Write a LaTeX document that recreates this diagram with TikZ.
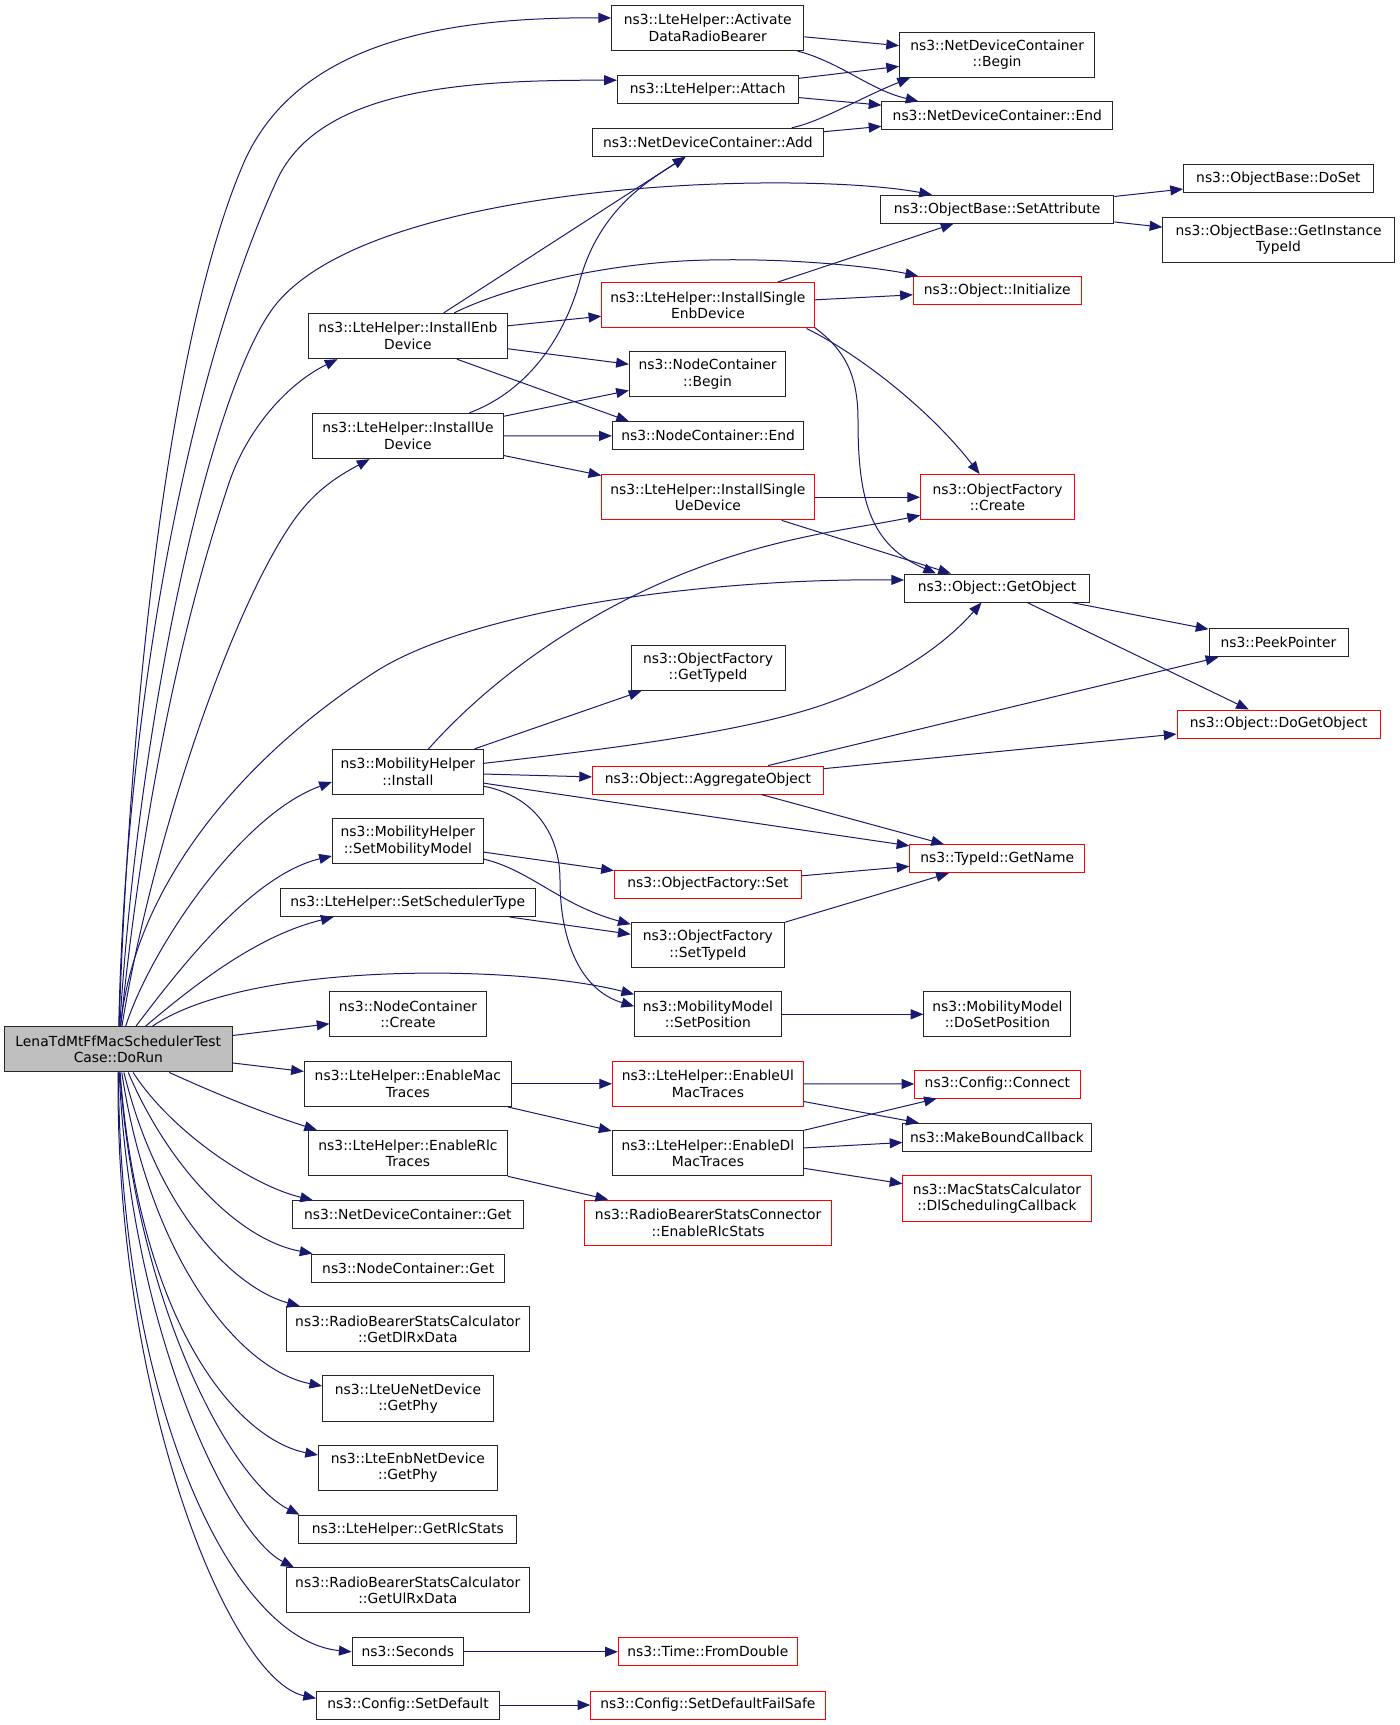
\documentclass[tikz,border=0pt]{standalone}
\usepackage{fontspec}
\setmainfont{DejaVu Sans}
\usetikzlibrary{arrows.meta,calc}
\definecolor{edgec}{RGB}{25,25,112}
\definecolor{rootfill}{RGB}{191,191,191}
\begin{document}
\begin{tikzpicture}[x=0.75pt,y=-0.75pt,
  nd/.style={draw=black!85, line width=0.75pt, fill=white, inner sep=0pt, align=center,
     font=\fontsize{10.4}{12.5}\selectfont},
  rd/.style={nd, draw=red},
  sg/.style={minimum height=21pt},
  db/.style={minimum height=34pt},
  wd/.style={minimum width=#1*0.75pt},
  e/.style={draw=edgec, line width=0.75pt, -{Triangle[length=9.5pt,width=7.5pt]}}]
\fill[white] (0,0) rectangle (1400,1725);
\useasboundingbox (0,0) rectangle (1400,1725);

% nodes
\node[nd,db,wd=227.4,fill=rootfill] (dorun) at (118.3,1049.3) {LenaTdMtFfMacSchedulerTest\\Case::DoRun};
\node[nd,db,wd=192.2] (adrb) at (707.7,27.9) {ns3::LteHelper::Activate\\DataRadioBearer};
\node[nd,sg,wd=180.6] (attach) at (707.7,89.2) {ns3::LteHelper::Attach};
\node[nd,sg,wd=230.8] (add) at (707.9,142.3) {ns3::NetDeviceContainer::Add};
\node[nd,db,wd=195.2] (ndcbegin) at (997.1,54.7) {ns3::NetDeviceContainer\\::Begin};
\node[nd,sg,wd=230.8] (ndcend) at (997.3,115.8) {ns3::NetDeviceContainer::End};
\node[nd,sg,wd=233.4] (setattr) at (997.1,209.2) {ns3::ObjectBase::SetAttribute};
\node[nd,sg,wd=189.8] (doset) at (1278.4,178.7) {ns3::ObjectBase::DoSet};
\node[nd,db,wd=231.5] (getinst) at (1278.6,239.8) {ns3::ObjectBase::GetInstance\\TypeId};
\node[rd,sg,wd=168] (init) at (997.3,290.5) {ns3::Object::Initialize};
\node[rd,db,wd=212.3] (isenb) at (707.9,305.3) {ns3::LteHelper::InstallSingle\\EnbDevice};
\node[nd,db,wd=198.6] (ienb) at (407.9,336) {ns3::LteHelper::InstallEnb\\Device};
\node[nd,db,wd=156.5] (ncbegin) at (707.6,374.3) {ns3::NodeContainer\\::Begin};
\node[nd,db,wd=190.9] (iue) at (407.9,436) {ns3::LteHelper::InstallUe\\Device};
\node[nd,sg,wd=191.4] (ncend) at (708.1,435.8) {ns3::NodeContainer::End};
\node[rd,db,wd=212.3] (isue) at (707.9,497.2) {ns3::LteHelper::InstallSingle\\UeDevice};
\node[rd,db,wd=153.8] (ofcreate) at (997.5,497.2) {ns3::ObjectFactory\\::Create};
\node[nd,sg,wd=185.2] (getobj) at (997.1,588) {ns3::Object::GetObject};
\node[nd,sg,wd=139] (peek) at (1278.5,642.8) {ns3::PeekPointer};
\node[nd,db,wd=153.8] (ofgettype) at (708.1,667.8) {ns3::ObjectFactory\\::GetTypeId};
\node[rd,sg,wd=203.6] (dogetobj) at (1278.8,724) {ns3::Object::DoGetObject};
\node[nd,db,wd=151.1] (mhinstall) at (407.9,772) {ns3::MobilityHelper\\::Install};
\node[rd,sg,wd=230.8] (aggr) at (707.9,780) {ns3::Object::AggregateObject};
\node[nd,db,wd=151.1] (setmob) at (407.9,841.3) {ns3::MobilityHelper\\::SetMobilityModel};
\node[rd,sg,wd=174.9] (getname) at (997.3,858.7) {ns3::TypeId::GetName};
\node[rd,sg,wd=187.1] (ofset) at (707.9,884) {ns3::ObjectFactory::Set};
\node[nd,sg,wd=254.5] (setsched) at (407.8,902.5) {ns3::LteHelper::SetSchedulerType};
\node[nd,db,wd=153.5] (settypeid) at (707.9,945.2) {ns3::ObjectFactory\\::SetTypeId};
\node[nd,db,wd=156.1] (nccreate) at (408,1014.3) {ns3::NodeContainer\\::Create};
\node[nd,db,wd=146.6] (setpos) at (707.9,1014.3) {ns3::MobilityModel\\::SetPosition};
\node[nd,db,wd=147] (dosetpos) at (997.4,1014.3) {ns3::MobilityModel\\::DoSetPosition};
\node[nd,db,wd=207] (enmac) at (407.8,1083.8) {ns3::LteHelper::EnableMac\\Traces};
\node[rd,db,wd=190.9] (enul) at (707.9,1083.8) {ns3::LteHelper::EnableUl\\MacTraces};
\node[rd,sg,wd=165.3] (connect) at (997.4,1084) {ns3::Config::Connect};
\node[nd,db,wd=191.7] (endl) at (707.9,1153.2) {ns3::LteHelper::EnableDl\\MacTraces};
\node[nd,sg,wd=188.2] (mbc) at (997,1137.3) {ns3::MakeBoundCallback};
\node[nd,db,wd=199] (enrlc) at (408,1153.2) {ns3::LteHelper::EnableRlc\\Traces};
\node[rd,db,wd=188.2] (dlsched) at (997,1198.5) {ns3::MacStatsCalculator\\::DlSchedulingCallback};
\node[rd,db,wd=246.5] (rlcstats) at (708.1,1222.7) {ns3::RadioBearerStatsConnector\\::EnableRlcStats};
\node[nd,sg,wd=230.8] (ndcget) at (407.8,1214.7) {ns3::NetDeviceContainer::Get};
\node[nd,sg,wd=192.5] (ncget) at (408.2,1268) {ns3::NodeContainer::Get};
\node[nd,db,wd=243] (dlrx) at (407.8,1329.2) {ns3::RadioBearerStatsCalculator\\::GetDlRxData};
\node[nd,db,wd=170.7] (uephy) at (408,1398.5) {ns3::LteUeNetDevice\\::GetPhy};
\node[nd,db,wd=178.7] (enbphy) at (407.8,1467.8) {ns3::LteEnbNetDevice\\::GetPhy};
\node[nd,sg,wd=217.7] (rlcget) at (407.8,1529.2) {ns3::LteHelper::GetRlcStats};
\node[nd,db,wd=243] (ulrx) at (407.8,1590.3) {ns3::RadioBearerStatsCalculator\\::GetUlRxData};
\node[nd,sg,wd=111.4] (seconds) at (407.8,1651.8) {ns3::Seconds};
\node[rd,sg,wd=179] (fromdouble) at (707.8,1651.8) {ns3::Time::FromDouble};
\node[nd,sg,wd=182.9] (setdefault) at (408,1705) {ns3::Config::SetDefault};
\node[rd,sg,wd=234.3] (failsafe) at (707.9,1705) {ns3::Config::SetDefaultFailSafe};

% DoRun fan (upwards)
\draw[e] (dorun) .. controls (130,700) and (170,330) .. (245,160) .. controls (300,40) and (450,17) .. ($(adrb.west)+(0,-10)$);
\draw[e] (dorun) .. controls (125,720) and (185,380) .. (277,180) .. controls (320,87) and (470,80) .. ($(attach.west)+(0,-9)$);
\draw[e] (dorun) .. controls (140,700) and (215,377) .. (277,303) .. controls (380,180) and (800,170) .. ($(setattr.north west)+(52,0)$);
\draw[e] (dorun) .. controls (150,740) and (200,570) .. (229,483) .. controls (246,432) and (285,385) .. ($(ienb.south west)+(29.4,0)$);
\draw[e] (dorun) .. controls (150,850) and (230,610) .. (294,520) .. controls (316,489) and (340,475) .. ($(iue.south west)+(57.6,0)$);
\draw[e] (dorun) .. controls (135,880) and (250,752) .. (375,672) .. controls (470,611) and (700,578) .. ($(getobj.west)+(0,-8)$);
\draw[e] (dorun) .. controls (150,950) and (240,815) .. ($(mhinstall.west)+(0,10)$);
\draw[e] (dorun) .. controls (175,975) and (250,875) .. ($(setmob.west)+(0,14.7)$);
\draw[e] (dorun) .. controls (200,980) and (260,935) .. ($(setsched.south west)+(53.5,0)$);
\draw[e] (dorun) .. controls (250,960) and (520,965) .. ($(setpos.west)+(0,-20)$);
\draw[e] (dorun) -- (nccreate);
\draw[e] (dorun) -- (enmac);
\draw[e] (dorun) .. controls (230,1100) and (270,1115) .. ($(enrlc.north west)+(9,0)$);
% DoRun fan (downwards)
\draw[e] (dorun) .. controls (170,1130) and (250,1185) .. ($(ndcget.north west)+(21,0)$);
\draw[e] (dorun) .. controls (170,1170) and (240,1240) .. ($(ncget.north west)+(1,0)$);
\draw[e] (dorun) .. controls (160,1220) and (240,1290) .. ($(dlrx.north west)+(14,0)$);
\draw[e] (dorun) .. controls (150,1260) and (240,1370) .. ($(uephy.west)+(0,-12.5)$);
\draw[e] (dorun) .. controls (140,1330) and (240,1440) .. ($(enbphy.west)+(0,-12.8)$);
\draw[e] (dorun) .. controls (135,1300) and (230,1480) .. ($(rlcget.north west)+(1,0)$);
\draw[e] (dorun) .. controls (130,1330) and (230,1535) .. ($(ulrx.north west)+(8,0)$);
\draw[e] (dorun) .. controls (120,1400) and (230,1640) .. (seconds.west);
\draw[e] (dorun) .. controls (115,1400) and (230,1680) .. ($(setdefault.west)+(0,-6.7)$);

% upper cluster
\draw[e] (adrb) -- (ndcbegin);
\draw[e] (adrb) .. controls (840,62) and (870,90) .. ($(ndcend.north west)+(37,0)$);
\draw[e] (attach) -- (ndcbegin);
\draw[e] (attach) -- (ndcend);
\draw[e] ($(add.north east)+(-32,0)$) .. controls (820,122) and (860,98) .. ($(ndcbegin.south west)+(11,0)$);
\draw[e] (add) -- (ndcend);
\draw[e] (setattr) -- (doset);
\draw[e] (setattr) -- (getinst);
\draw[e] (ienb) -- (add);
\draw[e] (ienb) .. controls (500,290) and (600,262) .. (709,260) .. controls (800,258) and (880,268) .. ($(init.north west)+(5.3,0)$);
\draw[e] (ienb) -- (isenb);
\draw[e] (ienb) -- (ncbegin);
\draw[e] ($(ienb.south)+(49,0)$) -- ($(ncend.north west)+(17,0)$);
\draw[e] (isenb) -- (setattr);
\draw[e] (isenb) -- (init);
\draw[e] ($(isenb.south east)+(-8,0)$) .. controls (860,355) and (930,410) .. (ofcreate);
\draw[e] ($(isenb.south east)+(0,-1)$) .. controls (845,350) and (858,375) .. (858,420) .. controls (858,500) and (870,545) .. ($(getobj.north west)+(32,0)$);
\draw[e] (iue) .. controls (530,390) and (565,335) .. (580,280) .. controls (600,208) and (650,180) .. (add);
\draw[e] (iue) -- (ncbegin);
\draw[e] (iue) -- (ncend);
\draw[e] (iue) -- (isue);
\draw[e] (isue) -- (ofcreate);
\draw[e] (isue) -- (getobj);
\draw[e] (getobj) -- (peek);
\draw[e] (getobj) -- (dogetobj);

% middle cluster
\draw[e] (mhinstall) .. controls (490,680) and (570,625) .. (650,588) .. controls (760,537) and (850,530) .. ($(ofcreate.south west)+(0,-5)$);
\draw[e] (mhinstall) -- (ofgettype);
\draw[e] (mhinstall) .. controls (600,750) and (720,735) .. (800,712) .. controls (880,689) and (940,650) .. ($(getobj.south west)+(77.5,0)$);
\draw[e] (mhinstall) -- (aggr);
\draw[e] (mhinstall) -- (getname);
\draw[e] (mhinstall) .. controls (530,795) and (560,830) .. (560,880) .. controls (560,940) and (580,990) .. ($(setpos.west)+(0,-8)$);
\draw[e] (aggr) -- (peek);
\draw[e] (aggr) -- (dogetobj);
\draw[e] (aggr) -- (getname);
\draw[e] (setmob) -- (ofset);
\draw[e] (setmob) .. controls (530,870) and (560,905) .. (settypeid);
\draw[e] (ofset) -- (getname);
\draw[e] (setsched) -- (settypeid);
\draw[e] (settypeid) -- (getname);
\draw[e] (setpos) -- (dosetpos);

% lower cluster
\draw[e] (enmac) -- (enul);
\draw[e] (enmac) -- (endl);
\draw[e] (enul) -- (connect);
\draw[e] (enul) -- (mbc);
\draw[e] (endl) -- (connect);
\draw[e] (endl) -- (mbc);
\draw[e] (endl) -- (dlsched);
\draw[e] (enrlc) -- (rlcstats);
\draw[e] (seconds) -- (fromdouble);
\draw[e] (setdefault) -- (failsafe);
\end{tikzpicture}
\end{document}
